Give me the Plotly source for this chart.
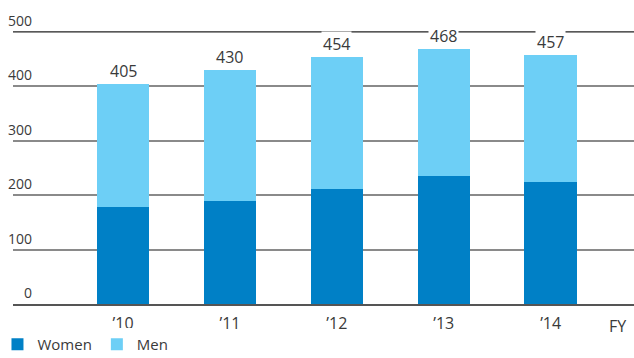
import plotly.graph_objects as go

# Headcount by fiscal year, split into women and men
years = ["\u201910", "\u201911", "\u201912", "\u201913", "\u201914"]
women = [179, 190, 212, 235, 225]
totals = [405, 430, 454, 468, 457]
men = [t - w for t, w in zip(totals, women)]
y_ticks = [0, 100, 200, 300, 400, 500]

WOMEN_COLOR = "#0080c6"
MEN_COLOR = "#6dcff6"
TEXT_COLOR = "#3a3a3a"
FONT = "Open Sans"

fig = go.Figure()
fig.add_trace(go.Bar(x=years, y=women, name="Women", marker_color=WOMEN_COLOR,
                     marker_line_width=0, width=0.49))
fig.add_trace(go.Bar(x=years, y=men, name="Men", marker_color=MEN_COLOR,
                     marker_line_width=0, width=0.49))

annotations = []
# total labels on top of each stack
for yr, t in zip(years, totals):
    annotations.append(dict(x=yr, y=t, xref="x", yref="y", text=str(t),
                            showarrow=False, yanchor="bottom", yshift=0,
                            bgcolor="white", borderpad=1,
                            font=dict(family=FONT, size=16, color=TEXT_COLOR)))
# value labels sitting above each gridline
for v in y_ticks:
    annotations.append(dict(x=0.032, y=v, xref="paper", yref="y", text=str(v),
                            showarrow=False, xanchor="right", yanchor="bottom",
                            yshift=1, borderpad=0,
                            font=dict(family=FONT, size=14, color=TEXT_COLOR)))
# fiscal-year marker after the last category
annotations.append(dict(x=4.63, y=0, xref="x", yref="y", text="FY",
                        showarrow=False, yanchor="top", yshift=-9,
                        font=dict(family=FONT, size=16, color=TEXT_COLOR)))

# darker, thinner rule for the top gridline (drawn beneath the labels)
shapes = [dict(type="line", xref="paper", x0=0, x1=1, yref="y",
               y0=y_ticks[-1], y1=y_ticks[-1], layer="below",
               line=dict(color="#222222", width=1.2))]

fig.update_layout(
    barmode="stack",
    width=634, height=358,
    margin=dict(l=13, r=0, t=21.4, b=53.7, autoexpand=False),
    paper_bgcolor="white", plot_bgcolor="white",
    font=dict(family=FONT, color=TEXT_COLOR),
    annotations=annotations,
    shapes=shapes,
    showlegend=True,
    legend=dict(orientation="h", x=-0.025, y=-0.085, xanchor="left", yanchor="top",
                font=dict(family=FONT, size=15, color=TEXT_COLOR),
                itemwidth=30, tracegroupgap=0, traceorder="normal"),
    xaxis=dict(type="category", range=[-1.03, 4.78], showgrid=False,
               ticks="", showline=True, linecolor="#555555", linewidth=1.5,
               tickfont=dict(family=FONT, size=16, color=TEXT_COLOR),
               ticklabelstandoff=4, fixedrange=True),
    yaxis=dict(range=[0, 520], tickvals=y_ticks[:-1], showticklabels=False,
               showgrid=True, gridcolor="#8a8a8a", gridwidth=1.5,
               zeroline=False, showline=False, fixedrange=True),
)

fig.write_html("out.html", config={"displayModeBar": False})
